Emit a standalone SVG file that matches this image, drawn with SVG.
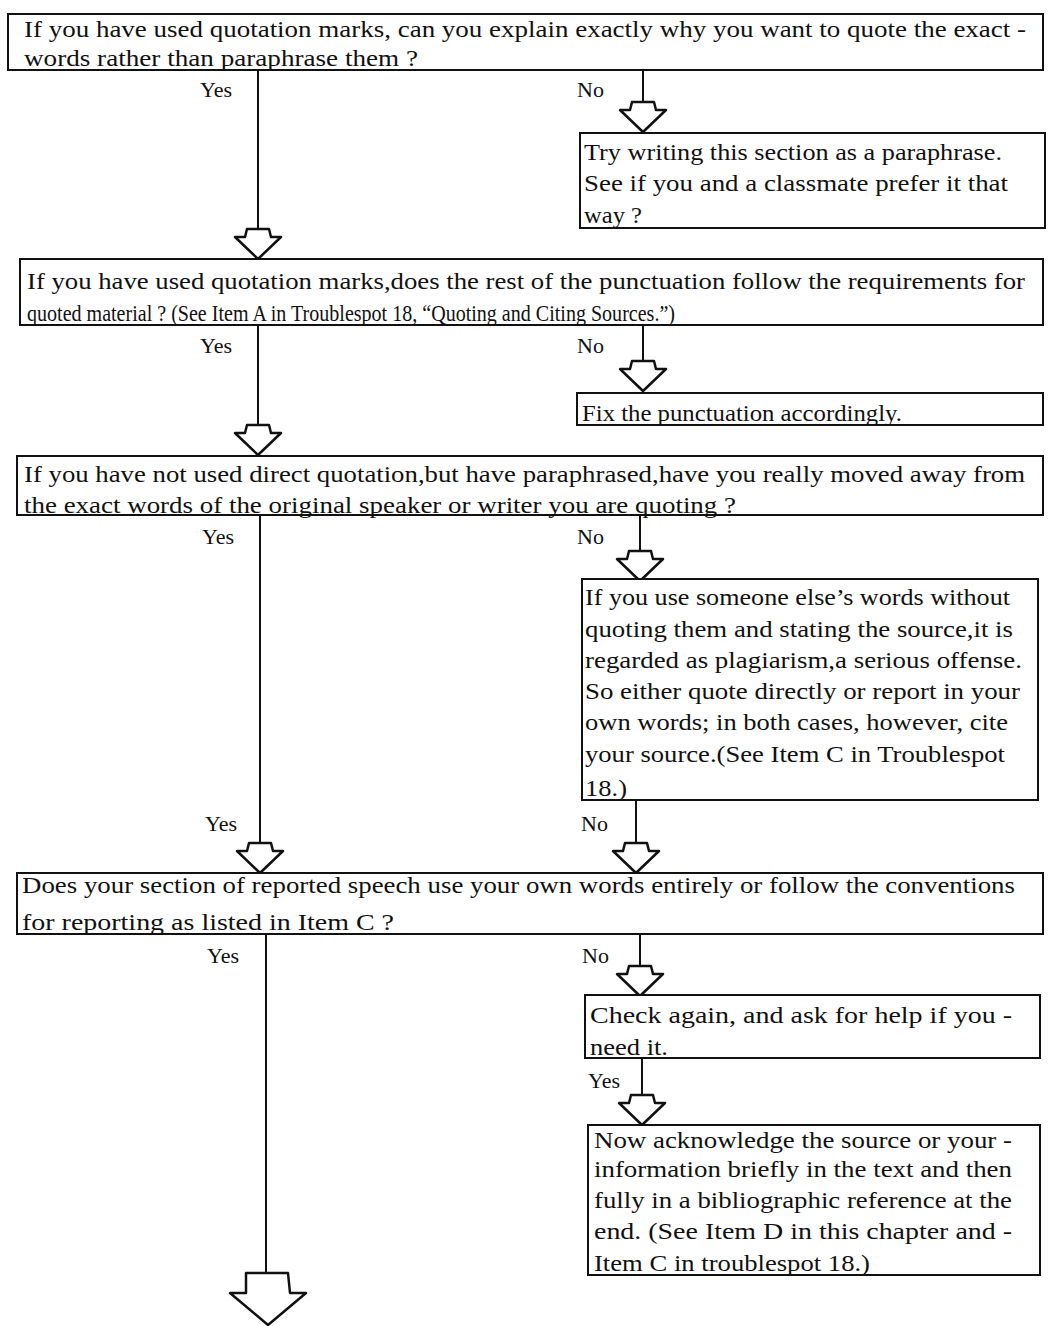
<svg xmlns="http://www.w3.org/2000/svg" width="1049" height="1326" viewBox="0 0 1049 1326">
<style>
.box{fill:#fff;stroke:#111;stroke-width:2}
.t{font-family:"Liberation Serif","Times New Roman",serif;font-size:23px;fill:#111}
.lbl{font-family:"Liberation Serif","Times New Roman",serif;font-size:22px;fill:#111}
.ln{stroke:#111;stroke-width:2;fill:none}
.ar{fill:#fff;stroke:#111;stroke-width:2.5;stroke-linejoin:round}
</style>
<defs>
<path id="arr" d="M-11,0 L11,0 L13,8 L23,8 L0,30 L-23,8 L-13,8 Z"/>
</defs>
<rect width="1049" height="1326" fill="#fff"/>

<g id="connectors">
<line class="ln" x1="258" y1="70" x2="258" y2="229"/>
<line class="ln" x1="643" y1="70" x2="643" y2="102"/>
<line class="ln" x1="258" y1="325" x2="258" y2="425"/>
<line class="ln" x1="643" y1="325" x2="643" y2="361"/>
<line class="ln" x1="260" y1="515" x2="260" y2="843"/>
<line class="ln" x1="640" y1="515" x2="640" y2="551"/>
<line class="ln" x1="636" y1="800" x2="636" y2="843"/>
<line class="ln" x1="266" y1="934" x2="266" y2="1273"/>
<line class="ln" x1="640" y1="934" x2="640" y2="966"/>
<line class="ln" x1="642" y1="1058" x2="642" y2="1095"/>
<use href="#arr" class="ar" x="643" y="102"/>
<use href="#arr" class="ar" x="258" y="229"/>
<use href="#arr" class="ar" x="643" y="361"/>
<use href="#arr" class="ar" x="258" y="425"/>
<use href="#arr" class="ar" x="640" y="551"/>
<use href="#arr" class="ar" x="260" y="843"/>
<use href="#arr" class="ar" x="636" y="843"/>
<use href="#arr" class="ar" x="640" y="966"/>
<use href="#arr" class="ar" x="642" y="1095"/>
<path class="ar" d="M246,1273 L288,1273 L290,1293 L306,1293 L268,1325 L230,1293 L246,1293 Z"/>
<text class="lbl" x="200" y="97">Yes</text>
<text class="lbl" x="577" y="97">No</text>
<text class="lbl" x="200" y="353">Yes</text>
<text class="lbl" x="577" y="353">No</text>
<text class="lbl" x="202" y="544">Yes</text>
<text class="lbl" x="577" y="544">No</text>
<text class="lbl" x="205" y="831">Yes</text>
<text class="lbl" x="581" y="831">No</text>
<text class="lbl" x="207" y="963">Yes</text>
<text class="lbl" x="582" y="963">No</text>
<text class="lbl" x="588" y="1088">Yes</text>
</g>

<g id="q1">
<rect class="box" x="8" y="14" width="1035" height="56"/>
<text class="t" x="24" y="37" textLength="1002" lengthAdjust="spacingAndGlyphs">If you have used quotation marks, can you explain exactly why you want to quote the exact  -</text>
<text class="t" x="24" y="66" textLength="394" lengthAdjust="spacingAndGlyphs">words rather than paraphrase them ?</text>
</g>

<g id="paraphrase">
<rect class="box" x="580" y="133" width="465" height="95"/>
<text class="t" x="584" y="160" textLength="418" lengthAdjust="spacingAndGlyphs">Try writing this section as a paraphrase.</text>
<text class="t" x="584" y="191" textLength="424" lengthAdjust="spacingAndGlyphs">See if you and a classmate prefer it that</text>
<text class="t" x="584" y="223" textLength="58" lengthAdjust="spacingAndGlyphs">way ?</text>
</g>

<g id="q2">
<rect class="box" x="20" y="259" width="1023" height="66"/>
<text class="t" x="27" y="289" textLength="998" lengthAdjust="spacingAndGlyphs">If you have used quotation marks,does the rest of the punctuation follow the requirements for</text>
<text class="t" x="27" y="321" textLength="648" lengthAdjust="spacingAndGlyphs">quoted material ?  (See Item A in Troublespot 18, “Quoting and Citing Sources.”)</text>
</g>

<g id="fix">
<rect class="box" x="577" y="393" width="466" height="32"/>
<text class="t" x="582" y="421" textLength="320" lengthAdjust="spacingAndGlyphs">Fix the punctuation accordingly.</text>
</g>

<g id="q3">
<rect class="box" x="17" y="456" width="1026" height="59"/>
<text class="t" x="24" y="482" textLength="1001" lengthAdjust="spacingAndGlyphs">If you have not used direct quotation,but have paraphrased,have you really moved away from</text>
<text class="t" x="24" y="513" textLength="712" lengthAdjust="spacingAndGlyphs">the exact words of the original speaker or writer you are quoting ?</text>
</g>

<g id="plagiarism">
<rect class="box" x="582" y="579" width="456" height="221"/>
<text class="t" x="585" y="605" textLength="425" lengthAdjust="spacingAndGlyphs">If you use someone else’s words without</text>
<text class="t" x="585" y="637" textLength="428" lengthAdjust="spacingAndGlyphs">quoting them and stating the source,it is</text>
<text class="t" x="585" y="668" textLength="437" lengthAdjust="spacingAndGlyphs">regarded as plagiarism,a serious offense.</text>
<text class="t" x="585" y="699" textLength="435" lengthAdjust="spacingAndGlyphs">So either quote directly or report in your</text>
<text class="t" x="585" y="730" textLength="423" lengthAdjust="spacingAndGlyphs">own words; in both cases, however, cite</text>
<text class="t" x="585" y="762" textLength="420" lengthAdjust="spacingAndGlyphs">your source.(See Item C in Troublespot</text>
<text class="t" x="585" y="796" textLength="42" lengthAdjust="spacingAndGlyphs">18.)</text>
</g>

<g id="q4">
<rect class="box" x="17" y="873" width="1026" height="61"/>
<text class="t" x="22" y="893" textLength="993" lengthAdjust="spacingAndGlyphs">Does your section of reported speech use your own words entirely or follow the conventions</text>
<text class="t" x="22" y="930" textLength="372" lengthAdjust="spacingAndGlyphs">for reporting as listed in Item C ?</text>
</g>

<g id="check">
<rect class="box" x="585" y="995" width="455" height="63"/>
<text class="t" x="590" y="1023" textLength="422" lengthAdjust="spacingAndGlyphs">Check again, and ask for help if you    -</text>
<text class="t" x="590" y="1055" textLength="78" lengthAdjust="spacingAndGlyphs">need it.</text>
</g>

<g id="acknowledge">
<rect class="box" x="588" y="1125" width="452" height="150"/>
<text class="t" x="594" y="1148" textLength="418" lengthAdjust="spacingAndGlyphs">Now acknowledge the source or your  -</text>
<text class="t" x="594" y="1177" textLength="418" lengthAdjust="spacingAndGlyphs">information briefly in the text and then</text>
<text class="t" x="594" y="1208" textLength="418" lengthAdjust="spacingAndGlyphs">fully in a bibliographic reference at the</text>
<text class="t" x="594" y="1239" textLength="418" lengthAdjust="spacingAndGlyphs">end.  (See Item D in this chapter and  -</text>
<text class="t" x="594" y="1271" textLength="276" lengthAdjust="spacingAndGlyphs">Item C in troublespot 18.)</text>
</g>
</svg>
